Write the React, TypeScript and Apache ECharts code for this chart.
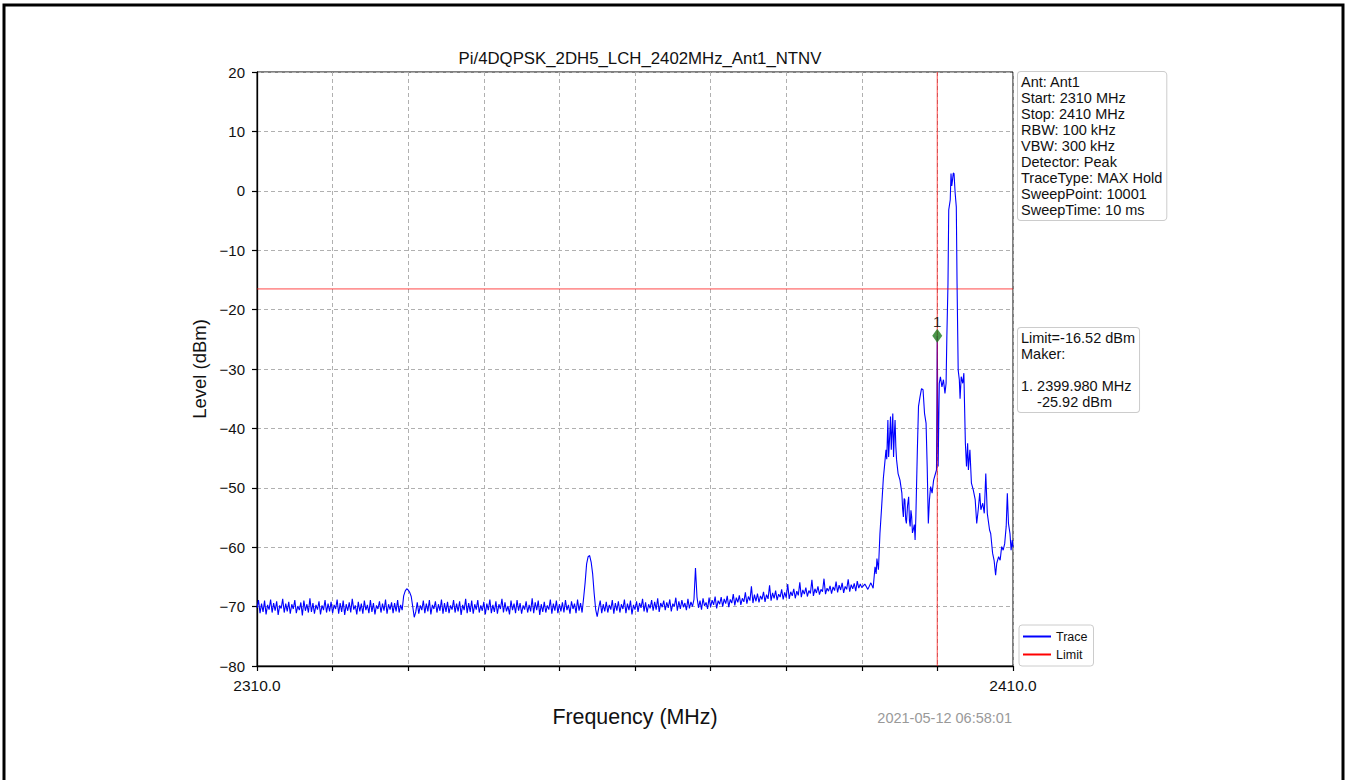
import React, { useEffect, useRef } from 'react';
import * as echarts from 'echarts';

const chartTitle = 'Pi/4DQPSK_2DH5_LCH_2402MHz_Ant1_NTNV';
const xAxisName = 'Frequency (MHz)';
const yAxisName = 'Level (dBm)';
const timestamp = '2021-05-12 06:58:01';

const xMin = 2310;
const xMax = 2410;
const yMin = -80;
const yMax = 20;

// Noise floor portion, sampled every 0.2 MHz from 2310 to 2390 MHz
const baseStart = 2310;
const baseStep = 0.2;
const baseLevels = [
  -70.2, -68.9, -71.1, -69.5, -70.9, -69.0, -71.3, -69.7, -70.5, -68.8,
  -71.0, -69.4, -70.7, -69.1, -71.4, -69.8, -70.3, -68.7, -71.0, -69.5,
  -70.8, -69.2, -71.2, -69.6, -70.4, -68.9, -71.1, -69.9, -70.6, -69.3,
  -71.5, -69.0, -70.7, -69.6, -71.0, -68.6, -70.9, -69.4, -71.2, -69.7,
  -70.5, -69.1, -71.3, -69.8, -70.6, -68.9, -71.0, -69.5, -70.8, -69.2,
  -71.1, -69.7, -70.4, -68.8, -71.2, -69.4, -70.9, -69.0, -71.4, -69.6,
  -70.7, -69.3, -71.0, -68.7, -70.5, -69.8, -71.3, -69.2, -70.8, -69.5,
  -71.2, -69.0, -70.6, -69.7, -71.1, -68.9, -70.9, -69.4, -71.3, -69.8,
  -70.4, -69.1, -71.0, -69.5, -70.7, -68.8, -71.2, -69.6, -70.5, -69.3,
  -71.1, -69.4, -70.8, -68.9, -71.0, -69.7, -70.6, -68.2, -67.4, -67.0,
  -67.2, -67.6, -68.3, -70.0, -71.8, -70.9, -69.3, -71.2, -69.8, -70.6,
  -69.0, -71.1, -69.5, -70.8, -68.9, -71.3, -69.7, -70.4, -69.1, -71.0,
  -69.6, -70.7, -68.8, -71.2, -69.4, -70.9, -69.2, -71.1, -69.8, -70.5,
  -68.9, -71.0, -69.5, -70.8, -69.1, -71.4, -69.7, -70.6, -68.7, -71.1,
  -69.4, -70.9, -69.0, -71.2, -69.6, -70.5, -68.9, -71.0, -69.8, -70.7,
  -69.2, -71.3, -69.5, -70.6, -68.8, -71.1, -69.7, -70.9, -69.1, -71.2,
  -69.6, -70.4, -68.7, -71.0, -69.3, -70.8, -69.9, -71.3, -69.0, -70.6,
  -69.5, -71.1, -68.9, -70.7, -69.4, -71.2, -69.8, -70.5, -69.1, -71.0,
  -69.7, -70.8, -68.6, -71.1, -69.3, -70.6, -69.0, -71.4, -69.6, -70.9,
  -69.2, -71.0, -69.8, -70.5, -68.8, -71.2, -69.5, -70.7, -69.0, -71.1,
  -69.6, -70.8, -69.3, -71.0, -68.9, -70.6, -69.7, -71.2, -69.1, -70.4,
  -69.5, -71.1, -68.8, -70.7, -69.4, -71.0, -68.6, -66.0, -62.8, -61.6,
  -61.4, -62.5, -64.5, -67.8, -70.5, -71.7, -70.2, -69.0, -71.1, -69.6,
  -70.8, -69.2, -71.0, -69.7, -70.5, -68.9, -71.2, -69.4, -70.7, -69.1,
  -71.0, -69.6, -70.4, -68.8, -71.1, -69.5, -70.6, -69.0, -71.3, -69.7,
  -70.5, -69.1, -70.9, -69.4, -70.2, -68.7, -70.8, -69.3, -71.0, -69.6,
  -70.3, -68.9, -70.7, -69.2, -70.5, -68.6, -70.9, -69.4, -70.1, -69.0,
  -70.6, -69.3, -70.2, -68.8, -70.8, -69.5, -70.0, -68.5, -70.7, -69.1,
  -70.4, -68.9, -70.1, -69.4, -70.6, -68.7, -70.3, -69.2, -70.0, -68.8,
  -63.5, -68.4, -70.2, -69.0, -70.5, -68.6, -69.9, -69.3, -70.4, -68.5,
  -70.1, -68.9, -69.7, -68.3, -70.3, -69.0, -69.6, -68.4, -70.0, -68.7,
  -69.5, -68.2, -70.1, -68.8, -69.4, -67.9, -69.8, -68.5, -69.3, -68.1,
  -69.7, -68.6, -69.2, -67.6, -69.5, -68.3, -69.0, -66.6, -69.4, -68.0,
  -69.1, -67.8, -69.3, -68.2, -68.8, -67.5, -69.2, -68.0, -68.7, -66.4,
  -69.0, -67.7, -68.6, -67.3, -68.9, -67.9, -68.4, -67.1, -68.8, -67.6,
  -68.5, -66.2, -68.7, -67.5, -68.2, -67.0, -68.6, -67.4, -68.1, -65.9,
  -68.4, -67.2, -67.9, -66.8, -68.3, -67.3, -67.8, -65.5, -68.2, -67.0,
  -67.7, -66.6, -68.0, -67.1, -67.5, -65.3, -67.9, -66.9, -67.4, -66.5,
  -67.8, -66.7, -67.3, -65.8, -67.6, -66.4, -67.2, -66.0, -67.7, -66.6,
  -67.1, -65.4, -67.5, -66.3, -67.0, -66.1, -67.4, -65.7, -66.9, -66.2,
  -66.8,
];

// Signal portion, 2390-2410 MHz
const peakFreqs = [
  2390.4, 2390.8, 2391.2, 2391.5, 2391.75, 2391.9, 2392.0, 2392.2, 2392.4, 2392.6,
  2392.85, 2393.0, 2393.2, 2393.3, 2393.45, 2393.55, 2393.7, 2393.8, 2393.9, 2394.0,
  2394.1, 2394.2, 2394.3, 2394.4, 2394.5, 2394.6, 2394.8, 2395.05, 2395.3, 2395.4,
  2395.5, 2395.6, 2395.7, 2395.8, 2395.9, 2396.05, 2396.2, 2396.3, 2396.4, 2396.5,
  2396.6, 2396.7, 2396.8, 2396.95, 2397.05, 2397.15, 2397.35, 2397.5, 2397.7, 2397.9,
  2398.1, 2398.3, 2398.5, 2398.65, 2398.8, 2398.95, 2399.1, 2399.3, 2399.5, 2399.7,
  2399.88, 2399.98, 2400.1, 2400.25, 2400.4, 2400.6, 2400.8, 2401.0, 2401.15, 2401.25,
  2401.4, 2401.5, 2401.7, 2401.8, 2401.9, 2402.0, 2402.1, 2402.2, 2402.35, 2402.5,
  2402.6, 2402.75, 2402.9, 2403.0, 2403.15, 2403.35, 2403.5, 2403.7, 2403.85, 2404.0,
  2404.1, 2404.3, 2404.5, 2404.75, 2405.0, 2405.2, 2405.4, 2405.6, 2405.75, 2406.0,
  2406.2, 2406.4, 2406.6, 2406.9, 2407.05, 2407.3, 2407.5, 2407.7, 2407.85, 2408.1,
  2408.3, 2408.5, 2408.7, 2408.9, 2409.1, 2409.25, 2409.4, 2409.6, 2409.75, 2409.9,
  2410.0,
];
const peakLevels = [
  -66.2, -67.1, -66.0, -66.9, -63.3, -64.5, -61.9, -63.8, -57.7, -53.7,
  -48.4, -46.4, -43.6, -45.2, -38.6, -44.8, -41.0, -38.0, -43.6, -40.5,
  -37.5, -44.8, -41.2, -38.6, -43.0, -45.3, -47.6, -48.7, -50.9, -53.5,
  -54.9, -51.8, -52.0, -55.3, -56.0, -53.0, -51.5, -55.5, -56.5, -53.8,
  -54.9, -57.6, -57.1, -56.2, -58.8, -54.9, -43.6, -36.3, -34.7, -33.3,
  -33.5, -37.5, -39.1, -46.4, -56.0, -52.0, -49.8, -50.9, -48.7, -47.8,
  -47.0, -24.4, -46.4, -32.4, -31.3, -33.0, -31.8, -34.1, -32.4, -24.6,
  -15.6, -3.2, -1.5, 2.9, 0.8, 1.8, 3.0, 2.9, -0.4, -2.7,
  -15.6, -30.2, -31.8, -35.0, -31.3, -32.4, -30.7, -42.5, -46.4, -42.5,
  -47.0, -43.6, -49.2, -50.4, -52.0, -56.0, -53.7, -50.9, -53.7, -52.6,
  -54.3, -47.6, -54.3, -57.1, -57.7, -61.0, -62.2, -64.7, -62.7, -61.6,
  -62.2, -59.9, -60.5, -59.4, -56.5, -50.9, -56.0, -57.7, -60.5, -58.8,
  -60.0,
];

const limitLevel = -16.52;
const markerFreq = 2399.98;
const markerLevel = -24.4;
const markerName = '1';

const infoLines = [
  'Ant: Ant1',
  'Start: 2310 MHz',
  'Stop: 2410 MHz',
  'RBW: 100 kHz',
  'VBW: 300 kHz',
  'Detector: Peak',
  'TraceType: MAX Hold',
  'SweepPoint: 10001',
  'SweepTime: 10 ms',
];
const markerLines = [
  'Limit=-16.52 dBm',
  'Maker:',
  '',
  '1. 2399.980 MHz',
  '\u00a0\u00a0\u00a0\u00a0-25.92 dBm',
];

const FONT = '"Liberation Sans", Arial, Helvetica, sans-serif';
const RED = 'rgba(255,0,0,0.72)';

export default function App() {
  const ref = useRef<HTMLDivElement>(null);

  useEffect(() => {
    document.body.style.margin = '0';
    if (!ref.current) return;
    const chart = echarts.init(ref.current, undefined, { renderer: 'svg' });

    const traceData: number[][] = baseLevels
      .map((v, i) => [Number((baseStart + i * baseStep).toFixed(2)), v])
      .concat(peakFreqs.map((f, i) => [f, peakLevels[i]]));

    const minus = (v: number) => (v < 0 ? '\u2212' + Math.abs(v) : String(v));

    chart.setOption({
      animation: false,
      backgroundColor: '#ffffff',
      textStyle: { fontFamily: FONT },
      title: {
        text: chartTitle,
        left: 635,
        textAlign: 'center',
        top: 45,
        textStyle: { fontSize: 16.8, fontWeight: 'normal', color: '#111', fontFamily: FONT },
      },
      grid: {
        left: 257,
        top: 72,
        width: 756,
        height: 594,
        show: true,
        borderColor: '#000',
        borderWidth: 1,
        backgroundColor: 'transparent',
      },
      legend: {
        orient: 'vertical',
        left: 1019,
        top: 625,
        padding: [5, 6, 5, 4],
        itemGap: 5,
        itemWidth: 28,
        itemHeight: 2,
        borderColor: '#cccccc',
        borderWidth: 1,
        borderRadius: 3,
        backgroundColor: '#ffffff',
        textStyle: { fontSize: 12.5, color: '#111', fontFamily: FONT },
        data: [
          { name: 'Trace', icon: 'rect' },
          { name: 'Limit', icon: 'rect' },
        ],
      },
      xAxis: {
        type: 'value',
        min: xMin,
        max: xMax,
        interval: 10,
        name: xAxisName,
        nameLocation: 'middle',
        nameGap: 40,
        nameTextStyle: { fontSize: 21.4, color: '#111', fontFamily: FONT },
        axisLine: { show: true, onZero: false, lineStyle: { color: '#000', width: 1.3 } },
        axisTick: { show: true, length: 5, lineStyle: { color: '#000', width: 1.2 } },
        axisLabel: {
          margin: 11,
          fontSize: 15.5,
          color: '#111',
          fontFamily: FONT,
          showMinLabel: true,
          showMaxLabel: true,
          formatter: (v: number) => (v === xMin || v === xMax ? v.toFixed(1) : ''),
        },
        splitLine: { show: true, lineStyle: { color: '#b0b0b0', type: [4, 3], width: 1 } },
      },
      yAxis: {
        type: 'value',
        min: yMin,
        max: yMax,
        interval: 10,
        name: yAxisName,
        nameLocation: 'middle',
        nameGap: 47,
        nameTextStyle: { fontSize: 18.5, color: '#111', fontFamily: FONT },
        axisLine: { show: true, onZero: false, lineStyle: { color: '#000', width: 1.3 } },
        axisTick: { show: true, length: 5, lineStyle: { color: '#000', width: 1.2 } },
        axisLabel: {
          margin: 12,
          fontSize: 15,
          color: '#111',
          fontFamily: FONT,
          formatter: (v: number) => minus(v),
        },
        splitLine: { show: true, lineStyle: { color: '#b0b0b0', type: [4, 3], width: 1 } },
      },
      series: [
        {
          name: 'Trace',
          type: 'line',
          data: traceData,
          showSymbol: false,
          symbol: 'none',
          color: '#0000ff',
          lineStyle: { color: '#0000ff', width: 1.1 },
          z: 2,
        },
        {
          name: 'Limit',
          type: 'line',
          data: [
            [xMin, limitLevel],
            [xMax, limitLevel],
          ],
          showSymbol: false,
          symbol: 'none',
          color: '#ff0000',
          lineStyle: { color: RED, width: 1 },
          z: 3,
        },
        {
          name: 'MarkerLine',
          type: 'line',
          data: [
            [markerFreq, yMin],
            [markerFreq, yMax],
          ],
          showSymbol: false,
          symbol: 'none',
          color: '#ff0000',
          lineStyle: { color: RED, width: 1 },
          z: 3,
        },
        {
          name: 'Marker',
          type: 'scatter',
          data: [[markerFreq, markerLevel]],
          symbol: 'diamond',
          symbolSize: [10, 14],
          itemStyle: { color: '#1e7a1e' },
          label: {
            show: true,
            position: 'top',
            distance: 0,
            formatter: markerName,
            fontSize: 15,
            color: '#000',
            fontFamily: FONT,
          },
          z: 5,
        },
      ],
      graphic: [
        {
          type: 'rect',
          silent: true,
          shape: { x: 4, y: 5, width: 1339, height: 820 },
          style: { fill: 'none', stroke: '#000', lineWidth: 3 },
        },
        {
          type: 'text',
          silent: true,
          left: 1017,
          top: 71,
          style: {
            text: infoLines.join('\n'),
            font: '14.5px ' + FONT,
            fill: '#111',
            lineHeight: 16,
            backgroundColor: '#ffffff',
            borderColor: '#cccccc',
            borderWidth: 1,
            borderRadius: 3,
            padding: [2, 4, 2, 3],
          },
        },
        {
          type: 'text',
          silent: true,
          left: 1017,
          top: 327,
          style: {
            text: markerLines.join('\n'),
            font: '14.5px ' + FONT,
            fill: '#111',
            lineHeight: 16,
            backgroundColor: '#ffffff',
            borderColor: '#cccccc',
            borderWidth: 1,
            borderRadius: 3,
            padding: [2, 4, 2, 3],
          },
        },
        {
          type: 'text',
          silent: true,
          x: 1012,
          y: 718,
          style: {
            text: timestamp,
            font: '14.5px ' + FONT,
            fill: '#999999',
            align: 'right',
            verticalAlign: 'middle',
          },
        },
      ],
    });

    return () => {
      chart.dispose();
    };
  }, []);

  return <div ref={ref} style={{ width: 1347, height: 780 }} />;
}
